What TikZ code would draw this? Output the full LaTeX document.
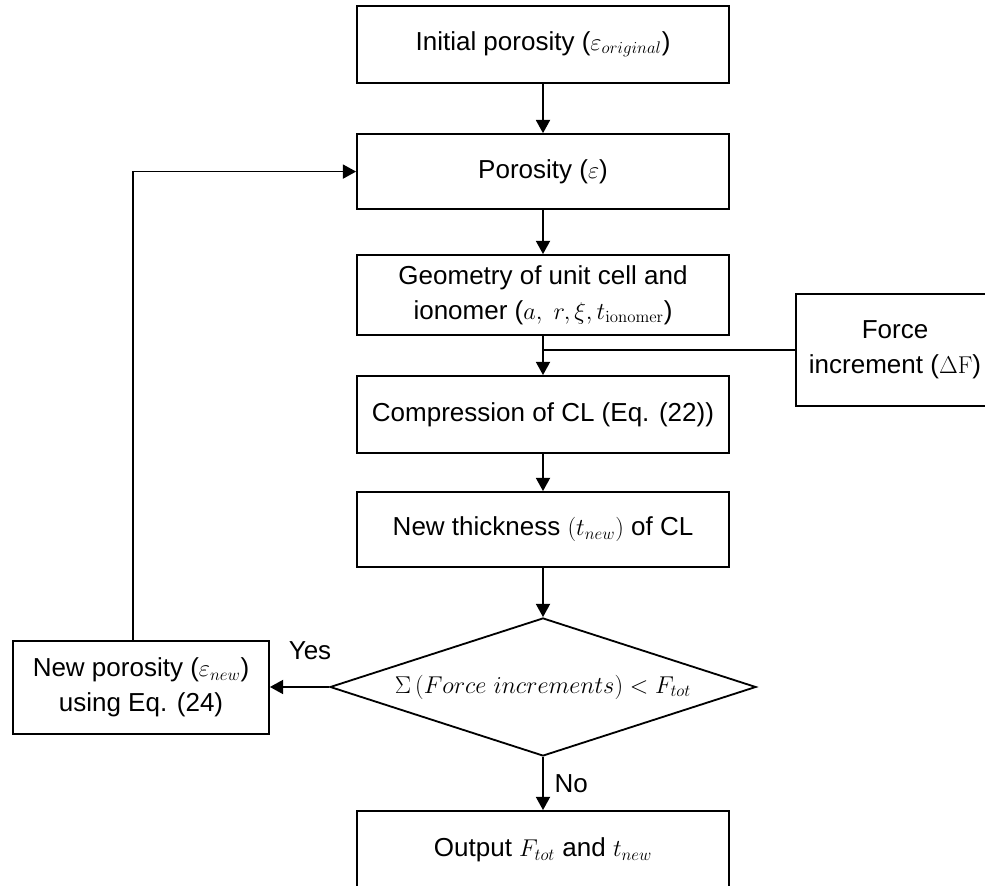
\documentclass[tikz,border=0pt]{standalone}
\usepackage[no-math]{fontspec}
\setmainfont{Liberation Sans}
\usetikzlibrary{shapes.geometric,arrows.meta}

\tikzset{
  procbox/.style={draw, line width=1.3pt, align=center, inner sep=0pt, minimum width=9.3cm, minimum height=1.9cm},
  decbox/.style={draw, diamond, line width=1.3pt, inner sep=0pt, aspect=3.09, minimum width=10.65cm, minimum height=3.45cm},
  flowarrow/.style={line width=1.3pt, -{Triangle[length=0.33cm, width=0.35cm]}},
  joinline/.style={line width=1.3pt}
}

\begin{document}
\begin{tikzpicture}[every node/.style={font=\fontsize{18.5}{25}\selectfont}]
\path[use as bounding box, fill=white] (0,0) rectangle (24.625,22.15);

\node[procbox, minimum height=1.925cm] (init) at (13.575,21.04) {Initial porosity ($\varepsilon_{original}$)};
\node[procbox, minimum height=1.875cm] (por) at (13.575,17.86) {Porosity ($\varepsilon$)};
\node[procbox, minimum height=2cm] (geom) at (13.575,14.775) {Geometry of unit cell and\\ionomer ($a,\ r,\xi,t_{\mathrm{ionomer}}$)};
\node[procbox, minimum height=1.925cm] (comp) at (13.575,11.7875) {Compression of CL (Eq. (22))};
\node[procbox, minimum height=1.875cm] (thick) at (13.575,8.9125) {New thickness $\left(t_{new}\right)$ of CL};
\node[decbox] (check) at (13.575,4.975) {$\Sigma\left(Force\ increments\right) < F_{tot}$};
\node[procbox, minimum height=1.95cm] (out) at (13.575,0.9) {Output $F_{tot}$ and $t_{new}$};
\node[procbox, minimum width=6.4cm, minimum height=2.325cm] (newpor) at (3.525,4.9625) {New porosity ($\varepsilon_{new}$)\\using Eq. (24)};
\node[procbox, minimum width=4.95cm, minimum height=2.8cm] (force) at (22.375,13.4) {Force\\increment ($\Delta\mathrm{F}$)};
\node (yes) at (7.75,5.875) {Yes};

\draw[flowarrow] (init) -- (por);
\draw[flowarrow] (por) -- (geom);
\draw[flowarrow] (geom) -- (comp);
\draw[joinline] (force.west) -- (force.west -| geom.south);
\draw[flowarrow] (comp) -- (thick);
\draw[flowarrow] (thick) -- (check);
\draw[flowarrow] (check) -- node[right=0.15cm] (no) {No} (out);
\draw[flowarrow] (check.west) -- (check.west -| newpor.east);
\draw[flowarrow] ([xshift=-0.2cm]newpor.north) |- (por.west);
\end{tikzpicture}
\end{document}
